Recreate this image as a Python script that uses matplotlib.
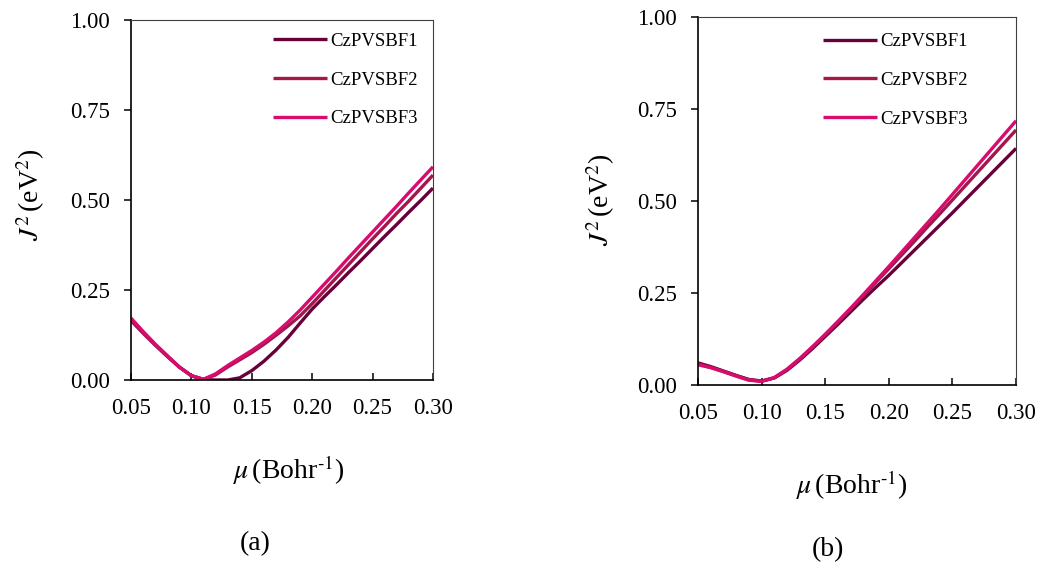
import matplotlib
matplotlib.use('Agg')
import matplotlib.pyplot as plt

plt.rcParams['font.family'] = ['Liberation Serif', 'DejaVu Serif']
plt.rcParams['mathtext.fontset'] = 'stix'

# mu grid (Bohr^-1), same for both panels
mu = [0.05, 0.06, 0.07, 0.08, 0.09, 0.10, 0.11, 0.12, 0.13, 0.14, 0.15, 0.16, 0.17,
      0.18, 0.19, 0.20, 0.21, 0.22, 0.23, 0.24, 0.25, 0.26, 0.27, 0.28, 0.29, 0.30]

labels = ['CzPVSBF1', 'CzPVSBF2', 'CzPVSBF3']
colors = ['#680039', '#a3174b', '#d80b6f']

# panel (a)
a_f1 = [0.168, 0.132, 0.098, 0.066, 0.036, 0.012, 0.001, 0.000, 0.000, 0.006, 0.026, 0.052, 0.083,
        0.118, 0.158, 0.197, 0.231, 0.264, 0.298, 0.331, 0.365, 0.399, 0.432, 0.466, 0.499, 0.533]
a_f2 = [0.165, 0.130, 0.097, 0.066, 0.036, 0.012, 0.002, 0.014, 0.036, 0.056, 0.076, 0.099, 0.124,
        0.150, 0.178, 0.212, 0.248, 0.284, 0.320, 0.356, 0.392, 0.427, 0.463, 0.497, 0.533, 0.569]
a_f3 = [0.172, 0.135, 0.100, 0.068, 0.036, 0.012, 0.002, 0.017, 0.040, 0.061, 0.082, 0.105, 0.131,
        0.161, 0.194, 0.230, 0.266, 0.302, 0.339, 0.375, 0.411, 0.447, 0.483, 0.520, 0.556, 0.592]

# panel (b)
b_f1 = [0.060, 0.050, 0.038, 0.026, 0.015, 0.011, 0.019, 0.040, 0.068, 0.099, 0.132, 0.165, 0.199,
        0.233, 0.266, 0.298, 0.332, 0.366, 0.400, 0.434, 0.468, 0.503, 0.538, 0.573, 0.608, 0.643]
b_f2 = [0.057, 0.048, 0.037, 0.025, 0.014, 0.010, 0.020, 0.042, 0.071, 0.103, 0.136, 0.171, 0.206,
        0.243, 0.280, 0.316, 0.353, 0.390, 0.428, 0.465, 0.503, 0.541, 0.579, 0.617, 0.655, 0.693]
b_f3 = [0.055, 0.047, 0.036, 0.024, 0.013, 0.010, 0.020, 0.043, 0.072, 0.104, 0.138, 0.173, 0.209,
        0.246, 0.284, 0.322, 0.361, 0.400, 0.439, 0.478, 0.518, 0.558, 0.598, 0.638, 0.678, 0.718]

xticks = [0.05, 0.10, 0.15, 0.20, 0.25, 0.30]
yticks = [0.00, 0.25, 0.50, 0.75, 1.00]

fig = plt.figure(figsize=(10.42, 5.67), dpi=100)
ax1 = fig.add_axes([0.1257, 0.3298, 0.2898, 0.635])
ax2 = fig.add_axes([0.6699, 0.321, 0.3052, 0.649])


def style(ax, series, ylab_x, ylab_y, xlab_x, xlab_y, leg_x, leg_y):
    for ys, lab, c in zip(series, labels, colors):
        ax.plot(mu, ys, color=c, lw=2.4, label=lab, solid_capstyle='butt')
    ax.set_xlim(0.05, 0.30)
    ax.set_ylim(0, 1)
    ax.set_xticks(xticks)
    ax.set_yticks(yticks)
    ax.set_xticklabels(['%.2f' % t for t in xticks])
    ax.set_yticklabels(['%.2f' % t for t in yticks])
    ax.tick_params(axis='x', direction='in', length=5, width=1.1, pad=13, labelsize=16.5)
    ax.tick_params(axis='y', direction='out', length=5, width=1.1, pad=10, labelsize=16.5)
    for s in ['left', 'bottom']:
        ax.spines[s].set_linewidth(1.2)
        ax.spines[s].set_color('black')
    for s in ['top', 'right']:
        ax.spines[s].set_linewidth(0.8)
        ax.spines[s].set_color('#404040')
    ax.set_ylabel(r'$J^2\,$(eV$^2$)', fontsize=20)
    ax.yaxis.set_label_coords(ylab_x, ylab_y)
    ax.set_xlabel(r'$\mu\,$(Bohr$^{\text{-}1}$)', fontsize=20)
    ax.xaxis.set_label_coords(xlab_x, xlab_y)
    ax.legend(loc='upper left', bbox_to_anchor=(leg_x, leg_y), frameon=False,
              fontsize=13.5, handlelength=2.9, handletextpad=0.15,
              labelspacing=1.15, borderpad=0, borderaxespad=0)


style(ax1, [a_f1, a_f2, a_f3], -0.278, 0.514, 0.523, -0.203, 0.47, 0.964)
style(ax2, [b_f1, b_f2, b_f3], -0.255, 0.503, 0.484, -0.228, 0.393, 0.956)

fig.text(0.245, 0.042, '(a)', fontsize=20, ha='center', va='center')
fig.text(0.795, 0.030, '(b)', fontsize=20, ha='center', va='center')

fig.savefig('out.png', dpi=100)
